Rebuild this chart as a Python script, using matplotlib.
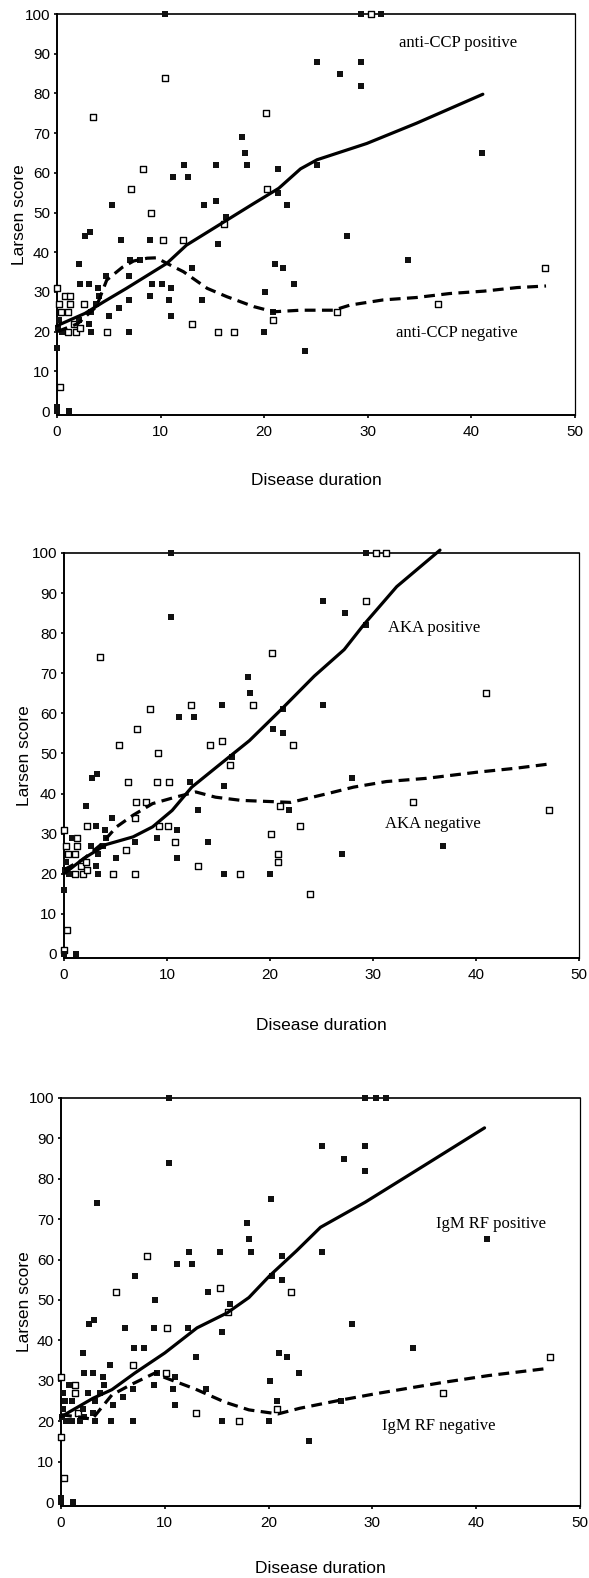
import matplotlib
matplotlib.use("Agg")
import matplotlib.pyplot as plt

# ---- patient data (disease duration, Larsen score) ----
duration = [10.4, 29.3, 30.3, 31.3, 10.4, 3.5, 20.2, 25.1, 29.3, 27.3,
            29.3, 17.9, 18.1, 18.3, 12.3, 15.3, 8.3, 11.2, 12.6, 7.1,
            20.3, 21.3, 21.3, 22.2, 5.3, 14.2, 15.3, 9.1, 16.3, 16.1,
            2.7, 3.2, 6.2, 9.0, 10.2, 12.2, 15.5, 28.0, 2.1, 7.0,
            8.0, 13.0, 21.0, 21.8, 33.9, 47.1, 0.0, 2.2, 3.1, 4.0,
            4.1, 4.7, 6.9, 9.0, 9.2, 10.1, 11.0, 10.8, 11.0, 6.9,
            6.0, 14.0, 13.0, 15.5, 17.1, 20.0, 20.1, 20.8, 20.8, 22.9,
            23.9, 27.0, 36.8, 4.8, 6.9, 0.0, 0.3, 0.0, 0.0, 41.0,
            25.1, 1.2, 0.2, 0.4, 0.2, 0.1, 0.8, 1.3, 1.3, 1.1,
            1.6, 1.1, 1.8, 2.2, 2.1, 3.1, 3.3, 3.3, 2.6, 0.5,
            3.8, 5.0]
larsen = [100, 100, 100, 100, 84, 74, 75, 88, 88, 85,
          82, 69, 65, 62, 62, 62, 61, 59, 59, 56,
          56, 55, 61, 52, 52, 52, 53, 50, 49, 47,
          44, 45, 43, 43, 43, 43, 42, 44, 37, 38,
          38, 36, 37, 36, 38, 36, 31, 32, 32, 31,
          29, 34, 34, 29, 32, 32, 31, 28, 24, 28,
          26, 28, 22, 20, 20, 20, 30, 25, 23, 32,
          15, 25, 27, 20, 20, 16, 6, 1, 0, 65,
          62, 0, 27, 25, 23, 21, 29, 29, 27, 25,
          22, 20, 20, 21, 23, 22, 20, 25, 27, 20,
          27, 24]

# 1 = positive (filled square), 0 = negative (open square)
ccp_pos = [1, 1, 0, 1, 0, 0, 0, 1, 1, 1,
           1, 1, 1, 1, 1, 1, 0, 1, 1, 0,
           0, 1, 1, 1, 1, 1, 1, 0, 1, 0,
           1, 1, 1, 1, 0, 0, 1, 1, 1, 1,
           1, 1, 1, 1, 1, 0, 0, 1, 1, 1,
           1, 1, 1, 1, 1, 1, 1, 1, 1, 1,
           1, 1, 0, 0, 0, 1, 1, 1, 0, 1,
           1, 0, 0, 0, 1, 1, 0, 1, 1, 1,
           1, 1, 0, 0, 1, 1, 0, 0, 0, 0,
           0, 0, 0, 0, 1, 1, 1, 1, 0, 1,
           1, 1]
aka_pos = [1, 1, 0, 0, 1, 0, 0, 1, 0, 1,
           1, 1, 1, 0, 0, 1, 0, 1, 1, 0,
           1, 1, 1, 0, 0, 0, 0, 0, 1, 0,
           1, 1, 0, 0, 0, 1, 1, 1, 1, 0,
           0, 1, 0, 1, 0, 0, 0, 0, 1, 1,
           1, 1, 0, 1, 0, 0, 1, 0, 1, 1,
           0, 1, 0, 1, 0, 1, 0, 0, 0, 0,
           0, 1, 1, 0, 0, 1, 0, 0, 1, 0,
           1, 1, 0, 0, 1, 1, 1, 0, 0, 0,
           0, 0, 0, 0, 0, 1, 1, 1, 1, 1,
           1, 1]
rf_pos = [1, 1, 1, 1, 1, 1, 1, 1, 1, 1,
          1, 1, 1, 1, 1, 1, 0, 1, 1, 1,
          1, 1, 1, 0, 0, 1, 0, 1, 1, 0,
          1, 1, 1, 1, 0, 1, 1, 1, 1, 1,
          1, 1, 1, 1, 1, 0, 0, 1, 1, 1,
          1, 1, 0, 1, 1, 0, 1, 1, 1, 1,
          1, 1, 0, 1, 0, 1, 1, 1, 0, 1,
          1, 1, 0, 1, 1, 0, 0, 1, 1, 1,
          1, 1, 1, 1, 1, 1, 1, 0, 0, 1,
          0, 1, 1, 1, 1, 1, 1, 1, 1, 1,
          1, 1]

# ---- smoothed curves ----
ccp_pos_x = [0, 2.7, 4.5, 6.7, 9.3, 10.6, 12.5, 16.4, 19.0, 21.4, 23.5, 25.1, 29.9, 34.7, 41.1]
ccp_pos_y = [21.5, 24.6, 27.5, 30.9, 35.1, 37.2, 41.8, 48.1, 52.3, 56.1, 61.0, 63.3, 67.4, 72.5, 79.8]
ccp_neg_x = [0, 2.0, 3.8, 4.8, 6.3, 7.4, 8.7, 9.6, 10.6, 12.2, 14.5, 16.4, 19.0, 20.9, 23.5, 26.7, 28.3, 31.5, 34.7, 37.9, 41.2, 44.4, 47.2]
ccp_neg_y = [20.0, 22.0, 26.3, 33.0, 36.2, 37.8, 38.5, 38.6, 37.2, 35.1, 30.9, 28.8, 26.3, 25.0, 25.4, 25.4, 26.7, 28.0, 28.6, 29.6, 30.2, 31.1, 31.5]

aka_pos_x = [0, 1.9, 4.1, 6.7, 8.6, 10.5, 12.4, 15.0, 18.0, 21.1, 24.3, 27.2, 29.1, 32.3, 36.5]
aka_pos_y = [20.0, 23.8, 27.3, 29.2, 31.7, 35.8, 41.6, 47.0, 53.2, 61.0, 69.3, 75.9, 82.1, 91.6, 100.7]
aka_neg_x = [0, 1.8, 3.5, 5.1, 6.7, 8.6, 10.8, 12.8, 14.7, 17.2, 20.1, 22.0, 25.6, 28.1, 31.3, 35.2, 40.0, 43.8, 47.2]
aka_neg_y = [21.0, 23.5, 27.1, 31.7, 34.6, 37.5, 39.1, 40.4, 39.1, 38.3, 38.0, 37.8, 40.0, 41.6, 43.0, 43.8, 45.3, 46.3, 47.4]

rf_pos_x = [0, 3.1, 4.9, 7.1, 10.0, 13.1, 16.0, 18.1, 20.1, 22.7, 25.0, 29.3, 35.0, 40.8]
rf_pos_y = [21.1, 25.7, 27.8, 31.9, 36.9, 43.1, 46.8, 50.6, 56.0, 62.2, 68.0, 74.2, 83.3, 92.6]
rf_neg_x = [0, 1.8, 3.0, 4.9, 6.7, 9.1, 10.0, 12.9, 15.8, 18.1, 20.9, 23.0, 26.7, 30.3, 36.8, 41.2, 47.0]
rf_neg_y = [21.6, 21.0, 20.5, 26.5, 29.0, 32.0, 30.8, 28.0, 24.7, 22.8, 21.8, 23.2, 25.1, 26.8, 29.6, 31.3, 33.1]

x_ticks = [0, 10, 20, 30, 40, 50]
y_ticks = [0, 10, 20, 30, 40, 50, 60, 70, 80, 90, 100]

panels = [
    dict(rect=[0.0968, 0.7370, 0.8795, 0.2541], status=ccp_pos,
         px=ccp_pos_x, py=ccp_pos_y, nx=ccp_neg_x, ny=ccp_neg_y,
         lab_pos=("anti-CCP positive", 33.0, 92.7), lab_neg=("anti-CCP negative", 32.7, 19.7),
         ylab_off=38, xlab_off=65),
    dict(rect=[0.1087, 0.3929, 0.8744, 0.2567], status=aka_pos,
         px=aka_pos_x, py=aka_pos_y, nx=aka_neg_x, ny=aka_neg_y,
         lab_pos=("AKA positive", 31.5, 81.4), lab_neg=("AKA negative", 31.2, 32.5),
         ylab_off=40, xlab_off=67),
    dict(rect=[0.1036, 0.0456, 0.8812, 0.2586], status=rf_pos,
         px=rf_pos_x, py=rf_pos_y, nx=rf_neg_x, ny=rf_neg_y,
         lab_pos=("IgM RF positive", 36.1, 68.7), lab_neg=("IgM RF negative", 30.9, 18.9),
         ylab_off=37, xlab_off=62),
]

sans = ["Liberation Sans", "DejaVu Sans"]
serif = ["Liberation Serif", "DejaVu Serif"]

fig = plt.figure(figsize=(5.89, 15.78), dpi=100)
fig.patch.set_facecolor("white")

for p in panels:
    ax = fig.add_axes(p["rect"])
    ax.set_xlim(0, 50)
    ax.set_ylim(-1, 100)
    st = p["status"]
    xf = [x for x, s in zip(duration, st) if s == 1]
    yf = [y for y, s in zip(larsen, st) if s == 1]
    xo = [x for x, s in zip(duration, st) if s == 0]
    yo = [y for y, s in zip(larsen, st) if s == 0]
    ax.scatter(xo, yo, marker="s", s=14, facecolors="white", edgecolors="black",
               linewidths=1.0, clip_on=False, zorder=3)
    ax.scatter(xf, yf, marker="s", s=13, color="#111111", linewidths=0,
               clip_on=False, zorder=3)
    ax.plot(p["px"], p["py"], color="black", lw=2.3, solid_capstyle="round",
            clip_on=False, zorder=4)
    ax.plot(p["nx"], p["ny"], color="black", lw=2.3, dashes=(3.4, 2.0),
            clip_on=False, zorder=4)

    t, x, y = p["lab_pos"]
    ax.text(x, y, t, fontsize=12, family=serif, ha="left", va="center")
    t, x, y = p["lab_neg"]
    ax.text(x, y, t, fontsize=12, family=serif, ha="left", va="center")

    ax.set_xticks(x_ticks)
    ax.set_yticks(y_ticks)
    ax.set_xticklabels([str(v) for v in x_ticks], family=sans, fontsize=11)
    ax.set_yticklabels([str(v) for v in y_ticks], family=sans, fontsize=11)
    ax.tick_params(axis="y", length=2.5, width=1.2, pad=2.5, direction="out")
    ax.tick_params(axis="x", length=2.5, width=1.2, pad=4.5, direction="out")

    for side in ["left", "bottom"]:
        ax.spines[side].set_linewidth(1.4)
    ax.spines["top"].set_linewidth(1.2)
    ax.spines["right"].set_linewidth(0.9)

    bbox_w = p["rect"][2] * 589
    bbox_h = p["rect"][3] * 1578
    ax.set_ylabel("Larsen score", family=sans, fontsize=12.5)
    ax.yaxis.label.set_va("center")
    ax.yaxis.set_label_coords(-p["ylab_off"] / bbox_w, 0.5)
    ax.set_xlabel("Disease duration", family=sans, fontsize=12.5)
    ax.xaxis.label.set_va("center")
    ax.xaxis.set_label_coords(0.5, -p["xlab_off"] / bbox_h)

fig.savefig("out.png", dpi=100, facecolor="white")
